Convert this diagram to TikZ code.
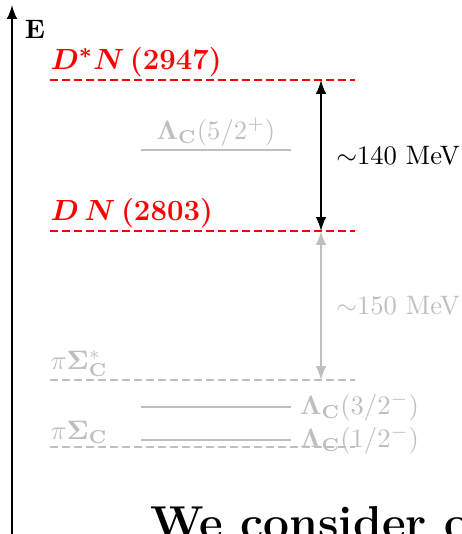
\documentclass[tikz,border=0pt]{standalone}
\usepackage{amsmath}
\tikzset{>=latex}
\colorlet{faded}{black!25}
\tikzset{
  threshold/.style={thick,dash pattern=on 3pt off 1.5pt},
  resonance/.style={thick,faded},
  lvllabel/.style={inner ysep=1pt,inner xsep=0pt},
  thrlabel/.style={lvllabel,red,anchor=south west,font=\fontsize{11}{13}\selectfont\boldmath\bfseries},
}

\begin{document}
\begin{tikzpicture}[x=0.375pt,y=-0.375pt]
  \useasboundingbox (0,0) rectangle (461,534);
  \clip (0,0) rectangle (461,534);
  \def\xl{50}  % left end of thresholds
  \def\xr{355} % right end of thresholds
  \def\xa{321} % x of the gap arrows
  % energy axis
  \coordinate (axisbot) at (12,534);
  \coordinate (axistop) at (12,5);
  \draw[->,thick] (axisbot) -- (axistop);
  \node[inner sep=0pt] (E) at (35,29) {$\mathbf{E}$};
  % thresholds
  \foreach \n/\y/\c in {DsN/80/red,DN/231/red,piSs/380/faded,piS/447/faded}{ % loop over thresholds
    \draw[threshold,\c] (\xl,\y) coordinate (\n-l) -- (\xr,\y) coordinate (\n-r);
    \coordinate (\n-a) at (\xa,\y);
  }
  \node[thrlabel] (DsNlab) at (DsN-l) {$D^*N\,$(2947)};
  \node[thrlabel] (DNlab) at (DN-l) {$D\,N\,$(2803)};
  \node[lvllabel,faded,anchor=south west] (piSslab) at (piSs-l) {$\pi\mathbf{\Sigma}^*_{\mathbf{C}}$};
  \node[lvllabel,faded,anchor=south west] (piSlab) at (piS-l) {$\pi\mathbf{\Sigma}_{\mathbf{C}}$};
  % Lambda_c resonances
  \draw[resonance] (141,150) coordinate (L52-l) -- (291,150) coordinate (L52-r)
    node[lvllabel,faded,midway,anchor=south] (L52) {$\mathbf{\Lambda}_{\mathbf{C}}(5/2^+)$};
  \draw[resonance] (141,407) coordinate (L32-l) -- (291,407) coordinate (L32-r)
    node[lvllabel,faded,anchor=west,inner xsep=3pt] (L32) {$\mathbf{\Lambda}_{\mathbf{C}}(3/2^-)$};
  \draw[resonance] (141,440) coordinate (L12-l) -- (291,440) coordinate (L12-r)
    node[lvllabel,faded,anchor=west,inner xsep=3pt] (L12) {$\mathbf{\Lambda}_{\mathbf{C}}(1/2^-)$};
  % gaps
  \draw[<->,thick] (DsN-a) -- (DN-a) node[midway,right=2pt] (gap140) {$\sim$140 MeV};
  \draw[<->,thick,faded] (DN-a) -- (piSs-a) node[midway,right=2pt,faded] (gap150) {$\sim$150 MeV};
  \node[anchor=base west,font=\LARGE\bfseries,inner sep=0pt] (consider) at (150,538) {We consider o};
\end{tikzpicture}
\end{document}
